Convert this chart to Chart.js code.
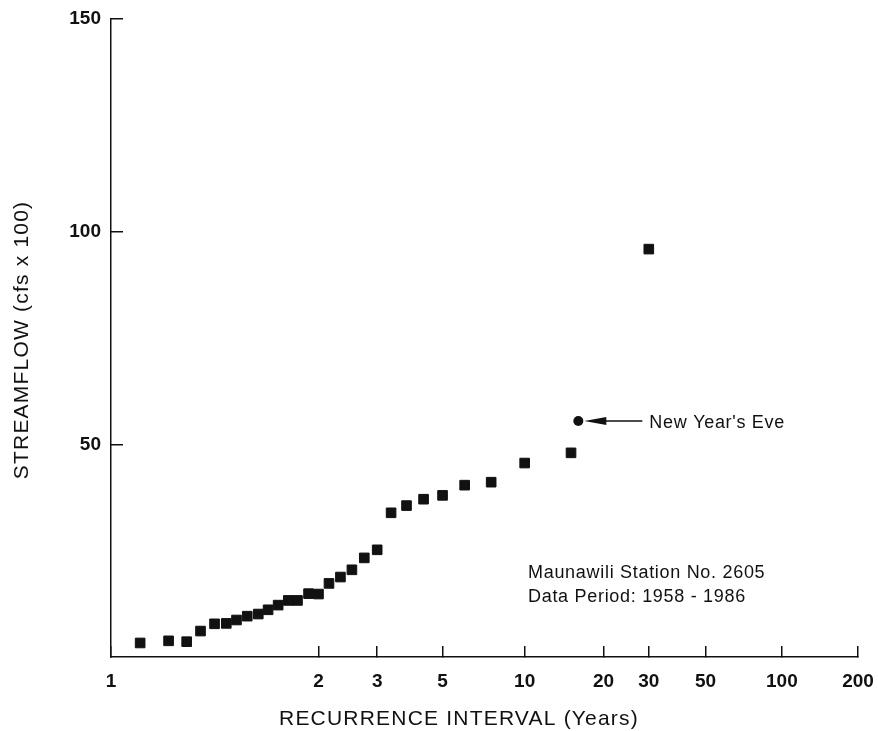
<!DOCTYPE html>
<html>
<head>
<meta charset="utf-8">
<script src="https://cdn.jsdelivr.net/npm/chart.js@4/dist/chart.umd.min.js"></script>
<style>
  html, body { margin: 0; padding: 0; background: #fff; }
  #wrap { width: 878px; height: 731px; position: relative; }
</style>
</head>
<body>
<div id="wrap"><canvas id="flowChart"></canvas></div>
<script>
// recurrence interval (years) and peak streamflow (cfs x 100)
const recurrence = [1.03, 1.07, 1.11, 1.15, 1.2, 1.25, 1.3, 1.36, 1.43, 1.5, 1.58, 1.67, 1.76, 1.88, 2.0,
  2.14, 2.31, 2.5, 2.73, 3.0, 3.33, 3.75, 4.29, 5.0, 6.0, 7.5, 10, 15, 30];
const streamflow = [3.3, 3.8, 3.6, 6.1, 7.8, 7.9, 8.7, 9.6, 10.1, 11.1, 12.2, 13.3, 13.3, 14.9, 14.8,
  17.3, 18.8, 20.5, 23.3, 25.2, 33.9, 35.6, 37.1, 38.0, 40.4, 41.1, 45.6, 48.0, 95.9];

// New Year's Eve event
const eveInterval = [16];
const eveFlow = [55.5];

// axis ticks
const xTickValues = [1, 2, 3, 5, 10, 20, 30, 50, 100, 200];
const xTickLabels = ["1", "2", "3", "5", "10", "20", "30", "50", "100", "200"];
const yTickValues = [50, 100, 150];

const INK = "#111";
const FONT = '"Liberation Sans", Arial, Helvetica, sans-serif';

// extreme value (Gumbel) probability axis for recurrence intervals
const gumbel = (t) => -Math.log(-Math.log(1 - 1 / t));

class GumbelScale extends Chart.LinearScale {
  static id = "gumbel";
  static defaults = Chart.LinearScale.defaults;

  determineDataLimits() {
    this.min = this.options.min;
    this.max = this.options.max;
  }
  buildTicks() {
    return xTickValues.map((v) => ({ value: Math.max(v, this.min) }));
  }
  configure() {
    super.configure();
    this._gStart = gumbel(this.min);
    this._gRange = gumbel(this.max) - this._gStart;
  }
  getPixelForValue(value) {
    return this.getPixelForDecimal((gumbel(value) - this._gStart) / this._gRange);
  }
  getValueForPixel(pixel) {
    const g = this._gStart + this.getDecimalForPixel(pixel) * this._gRange;
    return 1 / (1 - Math.exp(-Math.exp(-g)));
  }
}
Chart.register(GumbelScale);

const toPoints = (xs, ys) => xs.map((x, i) => ({ x, y: ys[i] }));

// arrow, labels and axis titles
const notes = {
  id: "notes",
  afterDatasetsDraw(chart) {
    const { ctx, chartArea, scales } = chart;
    const px = scales.x.getPixelForValue(eveInterval[0]);
    const py = scales.y.getPixelForValue(eveFlow[0]);

    ctx.save();
    ctx.strokeStyle = INK;
    ctx.fillStyle = INK;
    ctx.lineWidth = 1.5;
    ctx.beginPath();
    ctx.moveTo(px + 24, py);
    ctx.lineTo(px + 64, py);
    ctx.stroke();
    ctx.beginPath();
    ctx.moveTo(px + 6, py);
    ctx.lineTo(px + 28, py - 4);
    ctx.lineTo(px + 28, py + 4);
    ctx.closePath();
    ctx.fill();

    ctx.font = "18px " + FONT;
    ctx.letterSpacing = "0.7px";
    ctx.textAlign = "left";
    ctx.textBaseline = "middle";
    ctx.fillText("New Year's Eve", px + 71, py + 2);

    const sx = chartArea.left + 417;
    ctx.fillText("Maunawili Station No. 2605", sx, chartArea.bottom - 84);
    ctx.fillText("Data Period: 1958 - 1986", sx, chartArea.bottom - 60);

    // axis titles
    ctx.font = "21px " + FONT;
    ctx.letterSpacing = "1.2px";
    ctx.textAlign = "center";
    ctx.fillText("RECURRENCE INTERVAL (Years)", chartArea.left + 348, chartArea.bottom + 62);
    ctx.translate(22, (chartArea.top + chartArea.bottom) / 2 + 2);
    ctx.rotate(-Math.PI / 2);
    ctx.fillText("STREAMFLOW (cfs x 100)", 0, 0);
    ctx.restore();
  },
};

const ctx = document.getElementById("flowChart").getContext("2d");

new Chart(ctx, {
  type: "scatter",
  data: {
    datasets: [
      {
        data: toPoints(recurrence, streamflow),
        pointStyle: "rect",
        pointRadius: 6.8,
        borderWidth: 1,
        backgroundColor: INK,
        borderColor: INK,
      },
      {
        data: toPoints(eveInterval, eveFlow),
        pointStyle: "circle",
        pointRadius: 5,
        borderWidth: 0,
        backgroundColor: INK,
      },
    ],
  },
  options: {
    responsive: true,
    maintainAspectRatio: false,
    animation: false,
    events: [],
    layout: { padding: { top: 19, right: 20, bottom: 0, left: 0 } },
    plugins: {
      legend: { display: false },
      tooltip: { enabled: false },
    },
    scales: {
      x: {
        type: "gumbel",
        min: 1.01,
        max: 200,
        afterFit: (scale) => {
          scale.height = 74;
          scale.paddingLeft = 0;
          scale.paddingRight = 0;
        },
        border: { color: INK, width: 1.5 },
        grid: { drawOnChartArea: false, color: INK, lineWidth: 1.5, tickLength: -11 },
        ticks: {
          autoSkip: false,
          maxRotation: 0,
          padding: 24,
          color: INK,
          font: { family: FONT, size: 19, weight: "bold" },
          callback: (value, index) => xTickLabels[index],
        },
      },
      y: {
        min: 0,
        max: 150,
        afterFit: (scale) => {
          scale.width = 111;
          scale.paddingTop = 0;
          scale.paddingBottom = 0;
        },
        afterBuildTicks: (scale) => {
          scale.ticks = yTickValues.map((v) => ({ value: v }));
        },
        border: { color: INK, width: 1.5 },
        grid: { drawOnChartArea: false, color: INK, lineWidth: 1.5, tickLength: -12 },
        ticks: {
          padding: 22,
          color: INK,
          font: { family: FONT, size: 19, weight: "bold" },
        },
      },
    },
  },
  plugins: [notes],
});
</script>
</body>
</html>
